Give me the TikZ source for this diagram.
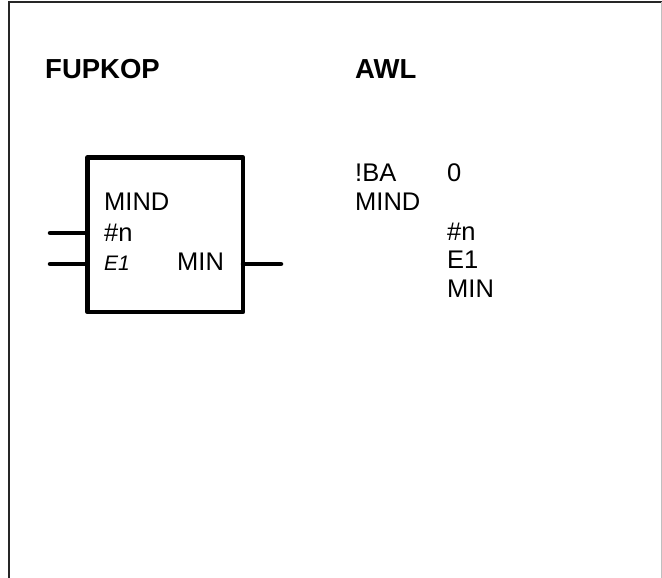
\documentclass[tikz,border=0pt]{standalone}
\usepackage{fontspec}
\setmainfont{Liberation Sans}
\begin{document}
\begin{tikzpicture}[x=1pt,y=-1pt,
  txt/.style={anchor=base west,inner sep=0pt,font=\fontsize{25.5}{30}\selectfont},
  head/.style={txt,font=\fontsize{27.5}{31}\selectfont\bfseries},
  small/.style={txt,font=\fontsize{21}{25}\selectfont\itshape},
  wire/.style={line width=4.5pt,line cap=round},
  frame/.style={line width=2pt,draw=black!85}]
\useasboundingbox (0,0) rectangle (662,578);
% frame
\draw[frame] (8.5,578) -- (8.5,2.5) -- (662,2.5);
\draw[line width=1pt,draw=black!25] (661,2.5) -- (661,578);
% headings
\node[head] (fup) at (45,79) {FUPKOP};
\node[head] (awl) at (355,79) {AWL};
% box
\draw[line width=4.8pt,line join=round] (87.5,157.5) rectangle (243,312);
\coordinate (in1a) at (50,233); \coordinate (in1b) at (87.5,233);
\coordinate (in2a) at (50,264); \coordinate (in2b) at (87.5,264);
\coordinate (outa) at (243,264); \coordinate (outb) at (281,264);
\draw[wire] (in1a) -- (in1b);
\draw[wire] (in2a) -- (in2b);
\draw[wire] (outa) -- (outb);
\node[txt] (bmind) at (104,210) {MIND};
\node[txt] (bn) at (104,241) {\#n};
\node[small] (be1) at (104,270) {E1};
\node[txt] (bmin) at (177,270) {MIN};
% AWL listing
\node[txt] (l1a) at (355,181) {!BA};
\node[txt] (l1b) at (447,181) {0};
\node[txt] (l2) at (355,210) {MIND};
\node[txt] (l3) at (447,240) {\#n};
\node[txt] (l4) at (447,268) {E1};
\node[txt] (l5) at (447,297) {MIN};
\end{tikzpicture}
\end{document}
